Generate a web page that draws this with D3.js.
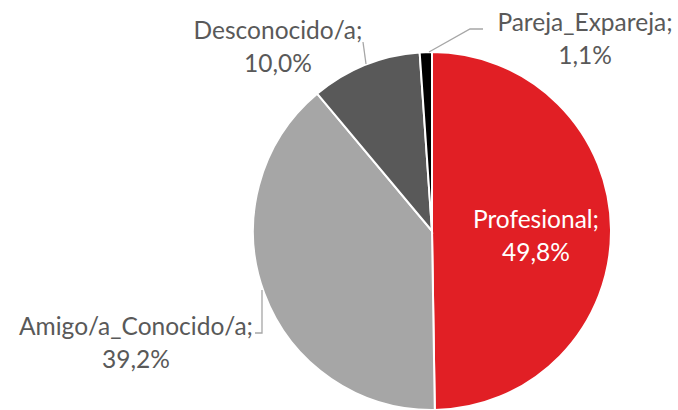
<!DOCTYPE html>
<html>
<head>
<meta charset="utf-8">
<script src="https://cdn.jsdelivr.net/npm/d3@7"></script>
<style>
  body { margin: 0; background: #fff; }
  svg { display: block; }
</style>
</head>
<body>
<script>
var w = 678;
var h = 410;

var categories = ["Profesional", "Amigo/a_Conocido/a", "Desconocido/a", "Pareja_Expareja"];
var values = [49.8, 39.2, 10.0, 1.1];
var colors = ["#e11f25", "#a6a6a6", "#595959", "#000000"];

// label layout (manually placed, like the original)
var labelX = [536, 136, 278, 585];
var labelY = [228, 335, 39, 31];
var labelColor = ["#ffffff", "#595959", "#595959", "#595959"];
var leaders = [
  null,
  [[262, 290], [262, 333], [255, 333]],
  [[366, 64], [363, 42]],
  [[429, 52], [470, 29], [483, 29]]
];

var cx = 432, cy = 231, r = 179;

var fmt = d3.formatLocale({ decimal: ",", thousands: ".", grouping: [3], currency: ["", "€"] }).format(".1f");

var svg = d3.select("body")
  .append("svg")
  .attr("width", w)
  .attr("height", h);

var pie = d3.pie().sort(null).value(function(d) { return d; });
var arc = d3.arc().innerRadius(0).outerRadius(r);

var g = svg.append("g").attr("transform", "translate(" + cx + "," + cy + ")");

g.selectAll("path")
  .data(pie(values))
  .enter()
  .append("path")
  .attr("d", arc)
  .attr("fill", function(d, i) { return colors[i]; })
  .attr("stroke", "#fff")
  .attr("stroke-width", 2);

var line = d3.line();
svg.selectAll("path.leader")
  .data(leaders.filter(function(d) { return d; }))
  .enter()
  .append("path")
  .attr("class", "leader")
  .attr("d", line)
  .attr("fill", "none")
  .attr("stroke", "#a6a6a6")
  .attr("stroke-width", 1.3);

var labels = svg.selectAll("text.lbl")
  .data(categories)
  .enter()
  .append("text")
  .attr("class", "lbl")
  .attr("text-anchor", "middle")
  .attr("font-family", "Lato, 'Open Sans', sans-serif")
  .attr("font-size", 24.5)
  .attr("fill", function(d, i) { return labelColor[i]; });

labels.append("tspan")
  .attr("x", function(d, i) { return labelX[i]; })
  .attr("y", function(d, i) { return labelY[i]; })
  .text(function(d) { return d + ";"; });

labels.append("tspan")
  .attr("x", function(d, i) { return labelX[i]; })
  .attr("y", function(d, i) { return labelY[i] + 33; })
  .text(function(d, i) { return fmt(values[i]) + "%"; });
</script>
</body>
</html>
